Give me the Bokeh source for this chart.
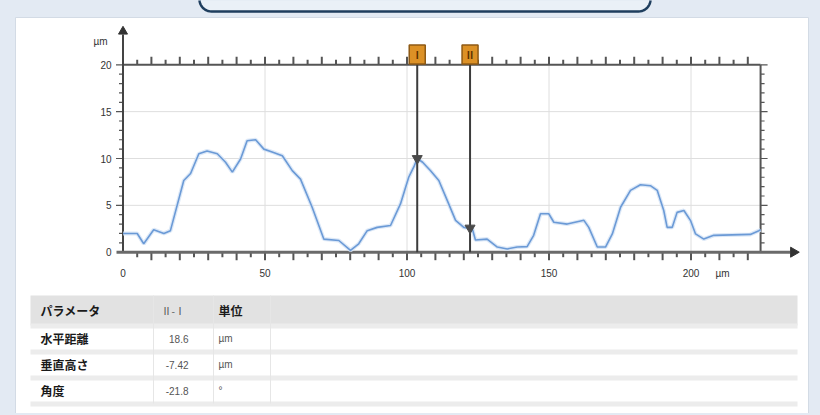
import numpy as np
from bokeh.plotting import figure
from bokeh.models import Range1d
from bokeh.core.properties import value
from bokeh.embed import file_html
from bokeh.resources import INLINE

# ---------------- data ----------------
profile_x = [0, 5.0, 7.3, 10.8, 14.4, 16.7, 21.4, 23.8, 26.7, 29.6, 33.2, 36.1, 38.5,
             41.4, 43.7, 46.7, 49.6, 52.5, 56.1, 59.6, 62.5, 66.6, 70.7, 76.0, 80.1,
             83.0, 86.0, 89.5, 94.2, 97.7, 100.6, 102.4, 103.6, 105.5, 108.3, 111.2,
             114.2, 117.1, 120.0, 123.0, 124.1, 128.2, 131.8, 135.3, 138.8, 142.3,
             144.6, 147.0, 149.9, 151.7, 156.4, 162.3, 164.0, 167.0, 169.9, 172.3,
             175.2, 178.7, 182.2, 185.7, 188.1, 190.4, 191.6, 193.4, 195.1, 197.5,
             199.8, 201.6, 204.5, 208.0, 220.9, 223.9, 224.5]
profile_y = [2.0, 2.0, 0.9, 2.4, 2.0, 2.3, 7.65, 8.4, 10.5, 10.8, 10.5, 9.6, 8.55,
             9.95, 11.9, 12.0, 11.0, 10.7, 10.3, 8.7, 7.8, 4.8, 1.4, 1.25, 0.2,
             0.9, 2.3, 2.65, 2.85, 5.15, 8.0, 9.1, 10.0, 9.6, 8.7, 7.65,
             5.5, 3.4, 2.65, 2.5, 1.3, 1.4, 0.55, 0.35, 0.55, 0.6,
             1.8, 4.1, 4.1, 3.2, 3.0, 3.4, 2.65, 0.55, 0.55, 1.95,
             4.8, 6.6, 7.2, 7.1, 6.6, 4.45, 2.65, 2.65, 4.25, 4.45,
             3.4, 1.95, 1.4, 1.8, 1.9, 2.3, 2.4]

cursor_x = [103.6, 122.2]
cursor_y = [10.0, 2.58]
cursor_names = ["Ⅰ", "Ⅱ"]

x_major = [0, 50, 100, 150, 200]
x_major_labels = ["0", "50", "100", "150", "200"]
y_major = [0, 5, 10, 15, 20]
y_major_labels = ["0", "5", "10", "15", "20"]
x_end = 224.5
y_top = 20
unit_label = "µm"

table_header = ["パラメータ", "Ⅱ-Ⅰ", "単位"]
table_params = ["水平距離", "垂直高さ", "角度"]
table_values = ["18.6", "-7.42", "-21.8"]
table_units = ["µm", "µm", "°"]

# ---------------- layout helpers (page pixel -> data) ----------------
W, H = 818, 413
X0, XS = 122.5, 2.84
Y0, YS = 251.7, 9.37
def X(px):
    return (px - X0) / XS
def Y(py):
    return (Y0 - py) / YS

BG = "#e3eaf3"
p = figure(width=W, height=H, x_range=Range1d(X(0), X(W)),
           y_range=Range1d(Y(H), Y(0)), output_backend="svg",
           toolbar_location=None, min_border=0,
           x_axis_location=None, y_axis_location=None)
p.grid.visible = False
p.outline_line_color = None
p.background_fill_color = BG
p.border_fill_color = BG

# title box (rounded, mostly cut off at top)
def rounded(l, r, t, b, rad, n=12):
    xs, ys = [], []
    for cx, cy, a0 in [(r - rad, b - rad, 0), (l + rad, b - rad, 90)]:
        for a in np.linspace(a0, a0 + 90, n):
            xs.append(cx + rad * np.cos(np.radians(a)))
            ys.append(cy + rad * np.sin(np.radians(a)))
    xs += [l, r]
    ys += [t, t]
    return [X(v) for v in xs], [Y(v) for v in ys]
bx, by = rounded(199, 650, -30, 11, 12)
p.patch(bx, by, fill_color="#eaf0f7", line_color="#1f3e5e", line_width=2.5)

# white panel
p.quad(left=X(15), right=X(808), top=Y(17), bottom=Y(430),
       fill_color="#ffffff", line_color="#d3dbe5", line_width=1)

# grid
gx = [v for v in x_major if 0 < v < x_end]
p.segment(x0=gx, y0=[0] * len(gx), x1=gx, y1=[y_top] * len(gx),
          line_color="#dedede", line_width=1)
gy = [v for v in y_major if 0 < v < y_top]
p.segment(x0=[0] * len(gy), y0=gy, x1=[x_end] * len(gy), y1=gy,
          line_color="#dedede", line_width=1)

AX = "#555555"
# ticks on top line and bottom axis (every 5)
xt = list(range(5, 225, 5))
xl = [8 if v % 10 == 0 else 5 for v in xt]
p.segment(x0=xt, y0=[y_top] * len(xt), x1=xt, y1=[y_top + l / YS for l in xl],
          line_color=AX, line_width=2)
p.segment(x0=xt, y0=[0] * len(xt), x1=xt, y1=[-l / YS for l in xl],
          line_color=AX, line_width=2)
# ticks on left and right (every 1)
yt = list(range(1, 21))
yl = [7 if v % 5 == 0 else 4 for v in yt]
p.segment(x0=[0] * len(yt), y0=yt, x1=[-l / XS for l in yl], y1=yt,
          line_color=AX, line_width=1.2)
p.segment(x0=[x_end] * len(yt), y0=yt, x1=[x_end + l / XS for l in yl], y1=yt,
          line_color=AX, line_width=1.2)

# frame lines
p.segment(x0=[0, x_end], y0=[y_top, 0], x1=[x_end, x_end], y1=[y_top, y_top],
          line_color=AX, line_width=2)
# axes with arrows
p.segment(x0=[0], y0=[0], x1=[0], y1=[Y(34)], line_color="#444444", line_width=2)
p.segment(x0=[X(116)], y0=[0], x1=[X(790)], y1=[0], line_color="#6a6a6a", line_width=3)
p.scatter(x=[0], y=[Y(31)], marker="triangle", size=9, color="#333333")
p.scatter(x=[X(793)], y=[0], marker="triangle", angle=-np.pi / 2, size=10, color="#333333")

# tick labels
FONT = value("Liberation Sans")
p.text(x=x_major, y=[Y(272)] * len(x_major), text=x_major_labels,
       text_align="center", text_baseline="middle", text_font=FONT,
       text_font_size="10px", text_color="#333333")
p.text(x=[X(722)], y=[Y(273)], text=[unit_label], text_align="center",
       text_baseline="middle", text_font=FONT, text_font_size="10px", text_color="#333333")
p.text(x=[X(111)] * len(y_major), y=y_major, text=y_major_labels,
       text_align="right", text_baseline="middle", text_font=FONT,
       text_font_size="10px", text_color="#333333")
p.text(x=[X(107)], y=[Y(41)], text=[unit_label], text_align="right",
       text_baseline="middle", text_font=FONT, text_font_size="10px", text_color="#333333")

# profile
p.line(profile_x, profile_y, line_color="#d3e2f5", line_width=4, line_alpha=0.8)
p.line(profile_x, profile_y, line_color="#6b9ad6", line_width=1.6)

# cursors
p.segment(x0=cursor_x, y0=[0, 0], x1=cursor_x, y1=[Y(50)] * 2,
          line_color="#3c3c3c", line_width=2)
p.scatter(x=cursor_x, y=cursor_y, marker="inverted_triangle", size=10, color="#4a4a4a")
p.rect(x=cursor_x, y=[Y(54)] * 2, width=16, height=19, width_units="screen",
       height_units="screen", fill_color="#dc9126", line_color="#8f5a14", line_width=1.5)
p.text(x=cursor_x, y=[Y(54)] * 2, text=cursor_names, text_align="center",
       text_baseline="middle", text_font=value("Noto Sans CJK JP"),
       text_font_size="10px", text_color="#5a3300", text_font_style="bold")

# table
row_tops = [295, 325, 351, 377]
row_bots = [325, 351, 377, 403]
p.quad(left=[X(30)], right=[X(797)], top=[Y(295)], bottom=[Y(325)],
       fill_color="#e2e2e2", line_color=None)
for b in row_bots:
    p.quad(left=[X(30)], right=[X(797)], top=[Y(b - 2)], bottom=[Y(b + 3)],
           fill_color="#ececec", line_color=None)
for cx in [153, 213, 270]:
    p.segment(x0=[X(cx)], y0=[Y(295)], x1=[X(cx)], y1=[Y(403)],
              line_color="#e6e6e6", line_width=1)
JP = value("Noto Sans CJK JP")
cy = [(t + b) / 2 for t, b in zip(row_tops, row_bots)]
p.text(x=[X(40)], y=[Y(cy[0])], text=[table_header[0]], text_baseline="middle",
       text_font=JP, text_font_size="12px", text_font_style="bold", text_color="#1a1a1a")
p.text(x=[X(161)], y=[Y(cy[0])], text=[table_header[1]], text_baseline="middle",
       text_font=JP, text_font_size="10px", text_color="#555555")
p.text(x=[X(218)], y=[Y(cy[0])], text=[table_header[2]], text_baseline="middle",
       text_font=JP, text_font_size="12px", text_font_style="bold", text_color="#1a1a1a")
ry = [Y(v) for v in cy[1:]]
p.text(x=[X(40)] * 3, y=ry, text=table_params, text_baseline="middle",
       text_font=JP, text_font_size="12px", text_font_style="bold", text_color="#1a1a1a")
p.text(x=[X(188)] * 3, y=ry, text=table_values, text_baseline="middle", text_align="right",
       text_font=FONT, text_font_size="10px", text_color="#555555")
p.text(x=[X(218)] * 3, y=ry, text=table_units, text_baseline="middle",
       text_font=FONT, text_font_size="10px", text_color="#555555")

html = file_html(p, INLINE)
html = html.replace("</head>", "<style>body{background:%s;}</style></head>" % BG, 1)
open("out.html", "w").write(html)
